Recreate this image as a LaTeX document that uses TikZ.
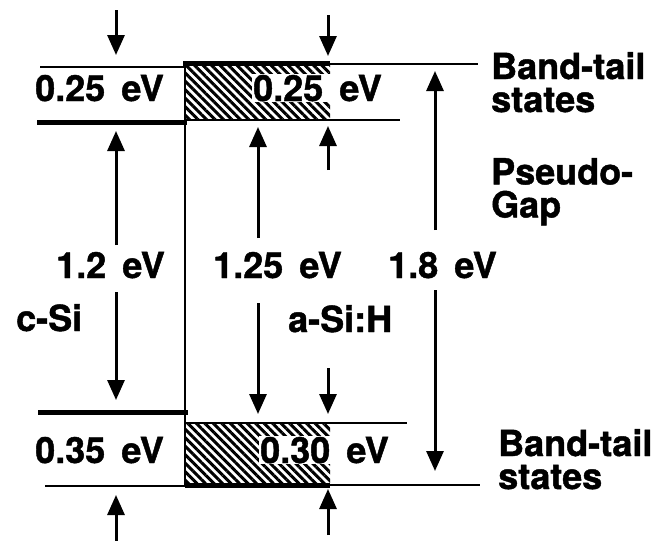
\documentclass[tikz,border=0pt]{standalone}
\usepackage{fontspec}
\setmainfont{TeX Gyre Heros}[BoldFeatures={FakeBold=1.2}]
\usetikzlibrary{arrows.meta,patterns.meta}
\newcommand{\evunit}{\hspace{0.45em}eV}
\tikzset{
  thinline/.style={line width=2.5pt},
  thickline/.style={line width=5pt},
  gaparrow/.style={
    line width=3pt,
    -{Triangle[width=17pt,length=20pt]}
  },
  hatch/.style={
    pattern={Lines[angle=-45,distance=6pt,line width=3pt]}
  },
  evlabel/.style={
    font=\fontsize{36}{36}\selectfont\bfseries,
    inner sep=1pt,
    anchor=base west
  },
  boxlabel/.style={evlabel, fill=white}
}

\begin{document}
\begin{tikzpicture}[x=1pt,y=-1pt]
        \useasboundingbox (0,0) rectangle (662,541);

        \fill[hatch] (185,63) rectangle (330,120);
        \fill[hatch] (186,423) rectangle (330,485);

        \draw[thinline] (40,67) -- (185,67);
        \draw[thickline] (183,63) -- (330,63);
        \draw[thinline] (330,64) -- (478,64);
        \draw[thickline] (37,122) -- (187,122);
        \draw[thinline] (185,120) -- (400,120);
        \draw[thinline] (185,63) -- (185,487);
        \draw[thickline] (38,412) -- (188,412);
        \draw[thinline] (186,423) -- (407,423);
        \draw[thickline] (185,485) -- (330,485);
        \draw[thinline] (330,485) -- (480,485);
        \draw[thinline] (45,486) -- (185,486);

        \node[evlabel] (ccb) at (34,101) {0.25\evunit};
        \node[boxlabel] (acb) at (252,101) {0.25\evunit};
        \node[evlabel] (cgap) at (55,278) {1.2\evunit};
        \node[evlabel] (agap) at (212,278) {1.25\evunit};
        \node[evlabel] (pgap) at (387,278) {1.8\evunit};
        \node[evlabel] (csi) at (15,331) {c-Si};
        \node[evlabel] (asi) at (287,332) {a-Si:H};
        \node[evlabel] (cvb) at (34,463) {0.35\evunit};
        \node[boxlabel] (avb) at (259,463) {0.30\evunit};
        \node[evlabel, align=left, anchor=north west] (tailtop) at (490,51)
            {Band-tail\\[-3pt]states};
        \node[evlabel, align=left, anchor=north west] (pseudo) at (490,157)
            {Pseudo-\\[-3pt]Gap};
        \node[evlabel, align=left, anchor=north west] (tailbot) at (497,428)
            {Band-tail\\[-3pt]states};

        \coordinate (c1) at (116,10);
        \coordinate (c2) at (116,55);
        \coordinate (c3) at (116,245);
        \coordinate (c4) at (116,131);
        \coordinate (c5) at (116,292);
        \coordinate (c6) at (116,400);
        \coordinate (c7) at (116,541);
        \coordinate (c8) at (116,495);
        \coordinate (a1) at (328,15);
        \coordinate (a2) at (328,56);
        \coordinate (a3) at (328,170);
        \coordinate (a4) at (328,126);
        \coordinate (a5) at (328,368);
        \coordinate (a6) at (328,414);
        \coordinate (a7) at (328,535);
        \coordinate (a8) at (328,489);
        \coordinate (g1) at (258,238);
        \coordinate (g2) at (258,127);
        \coordinate (g3) at (258,303);
        \coordinate (g4) at (258,414);
        \coordinate (p1) at (435,230);
        \coordinate (p2) at (435,71);
        \coordinate (p3) at (435,290);
        \coordinate (p4) at (435,471);

        \draw[gaparrow] (c1) -- (c2);
        \draw[gaparrow] (c3) -- (c4);
        \draw[gaparrow] (c5) -- (c6);
        \draw[gaparrow] (c7) -- (c8);
        \draw[gaparrow] (a1) -- (a2);
        \draw[gaparrow] (a3) -- (a4);
        \draw[gaparrow] (a5) -- (a6);
        \draw[gaparrow] (a7) -- (a8);
        \draw[gaparrow] (g1) -- (g2);
        \draw[gaparrow] (g3) -- (g4);
        \draw[gaparrow] (p1) -- (p2);
        \draw[gaparrow] (p3) -- (p4);
\end{tikzpicture}
\end{document}
